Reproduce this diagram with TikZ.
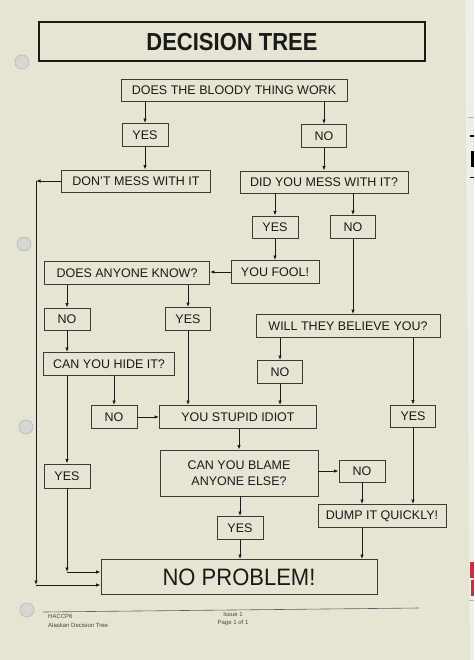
\documentclass[tikz,border=0pt]{standalone}
\usepackage{fontspec}
\setmainfont{Liberation Sans}
\usetikzlibrary{arrows.meta,calc}
\definecolor{paper}{HTML}{E6E4D3}
\definecolor{edge}{HTML}{EEEEEA}
\definecolor{ink}{HTML}{1A1A18}
\definecolor{boxline}{HTML}{3C3C37}
\definecolor{hole}{HTML}{D6D6D3}
\definecolor{markred}{HTML}{C8303C}
\tikzset{
  box/.style={draw=boxline, line width=0.9pt, rectangle, inner sep=0pt, text=ink,
    font=\fontsize{12.5}{15}\selectfont, align=center},
  arr/.style={draw=ink, line width=0.8pt, -{Latex[length=4.5pt,width=3.5pt]}},
  punch/.style={fill=hole, draw=gray!55, line width=0.6pt},
  foot/.style={font=\fontsize{6}{7}\selectfont, text=ink!80, inner sep=0pt, align=left}
}
\begin{document}
\begin{tikzpicture}[x=1pt,y=-1pt]
% page and background
\fill[edge] (0,0) rectangle (474,660);
\fill[paper] (0,0) -- (465,0) -- (470,660) -- (0,660) -- cycle;
\useasboundingbox (0,0) rectangle (474,660);
\fill[black] (471,151) rectangle (474,167);
\fill[black] (470,135) rectangle (474,137);
\fill[black] (470,177) rectangle (474,178.5);
\fill[markred] (470,562) rectangle (474,578);
\fill[markred] (471,580) rectangle (474,596);
\draw[gray!60, line width=0.6pt] (468,117) -- (474,117);
\draw[gray!60, line width=0.6pt] (469,600) -- (474,600);
% punch holes
\draw[punch] (22,62) circle (7);
\draw[punch] (24,244) circle (7);
\draw[punch] (26,427) circle (7);
\draw[punch] (27,610) circle (7);

% title
\node[draw=ink, line width=2pt, minimum width=386pt, minimum height=39pt, inner sep=0pt,
      font=\fontsize{22}{26}\selectfont\bfseries, text=ink] (title) at (232,42) {\scalebox{1}[1.12]{DECISION TREE}};

% nodes
\node[box, minimum width=226pt, minimum height=22pt] (q1) at (234,90) {DOES THE BLOODY THING WORK};
\node[box, minimum width=46pt, minimum height=23pt] (y1) at (145,135) {YES};
\node[box, minimum width=45pt, minimum height=23pt] (n1) at (324,136) {NO};
\node[box, minimum width=149pt, minimum height=22pt] (dm) at (136,181) {DON'T MESS WITH IT};
\node[box, minimum width=168pt, minimum height=22pt] (dy) at (324,182) {DID YOU MESS WITH IT?};
\node[box, minimum width=46pt, minimum height=22pt] (y2) at (275,227) {YES};
\node[box, minimum width=45pt, minimum height=23pt] (n2) at (353,227) {NO};
\node[box, minimum width=88pt, minimum height=23pt] (yf) at (275,272) {YOU FOOL!};
\node[box, minimum width=165pt, minimum height=23pt] (dak) at (127,273) {DOES ANYONE KNOW?};
\node[box, minimum width=46pt, minimum height=22pt] (n3) at (67,319) {NO};
\node[box, minimum width=45pt, minimum height=23pt] (y3) at (188,319) {YES};
\node[box, minimum width=184pt, minimum height=23pt] (wt) at (348,326) {WILL THEY BELIEVE YOU?};
\node[box, minimum width=131pt, minimum height=23pt] (ch) at (109,364) {CAN YOU HIDE IT?};
\node[box, minimum width=45pt, minimum height=23pt] (n4) at (280,372) {NO};
\node[box, minimum width=157pt, minimum height=23pt] (ysi) at (238,417) {YOU STUPID IDIOT};
\node[box, minimum width=46pt, minimum height=23pt] (n5) at (114,417) {NO};
\node[box, minimum width=45pt, minimum height=22pt] (y4) at (413,416) {YES};
\node[box, minimum width=158pt, minimum height=46pt, text depth=0pt] (cb) at (239,473) {CAN YOU BLAME\\[1.5pt]ANYONE ELSE?};
\node[box, minimum width=46pt, minimum height=22pt] (n6) at (362,471) {NO};
\node[box, minimum width=46pt, minimum height=24pt] (y5) at (67,476) {YES};
\node[box, minimum width=128pt, minimum height=23pt] (dq) at (382,516) {DUMP IT QUICKLY!};
\node[box, minimum width=46pt, minimum height=23pt] (y6) at (240,528) {YES};
\node[box, minimum width=276pt, minimum height=35pt, font=\fontsize{22}{26}\selectfont] (np) at (239,577) {\scalebox{1}[1.08]{NO PROBLEM!}};

% helper coordinates
\coordinate (c1) at (36,181);
\coordinate (c2) at (36,585);
\coordinate (c3) at (67,572);

% connectors
\draw[arr] (y1.north |- q1.south) -- (y1.north);
\draw[arr] (n1.north |- q1.south) -- (n1.north);
\draw[arr] (y1.south) -- (y1.south |- dm.north);
\draw[arr] (n1.south) -- (n1.south |- dy.north);
\draw[arr] (y2.north |- dy.south) -- (y2.north);
\draw[arr] (n2.north |- dy.south) -- (n2.north);
\draw[arr] (y2.south) -- (yf.north);
\draw[arr] (yf.west) -- (yf.west -| dak.east);
\draw[arr] (n3.north |- dak.south) -- (n3.north);
\draw[arr] (y3.north |- dak.south) -- (y3.north);
\draw[arr] (n2.south) -- (n2.south |- wt.north);
\draw[arr] (n4.north |- wt.south) -- (n4.north);
\draw[arr] (y4.north |- wt.south) -- (y4.north);
\draw[arr] (n3.south) -- (n3.south |- ch.north);
\draw[arr] (n5.north |- ch.south) -- (n5.north);
\draw[arr] (y5.north |- ch.south) -- (y5.north);
\draw[arr] (y3.south) -- (y3.south |- ysi.north);
\draw[arr] (n4.south) -- (n4.south |- ysi.north);
\draw[arr] (n5.east) -- (n5.east -| ysi.west);
\draw[arr] (cb.north |- ysi.south) -- (cb.north);
\draw[arr] (n6.west -| cb.east) -- (n6.west);
\draw[arr] (y6.north |- cb.south) -- (y6.north);
\draw[arr] (n6.south) -- (n6.south |- dq.north);
\draw[arr] (y4.south) -- (y4.south |- dq.north);
\draw[arr] (y6.south) -- (y6.south |- np.north);
\draw[arr] (dq.south -| n6.south) -- (np.north -| n6.south);
\draw[arr] (y5.south) -- (c3);
\draw[arr] (c3) -- (c3 -| np.west);
\draw[arr] (dm.west) -- (c1);
\draw[arr] (c1) -- (c2);
\draw[arr] (c2) -- (c2 -| np.west);

% footer
\coordinate (fl) at (43,612);
\coordinate (fr) at (419,608);
\draw[ink!70, line width=0.6pt] (fl) -- (fr);
\node[foot, anchor=west] (f1) at (48,616) {HACCP6};
\node[foot, anchor=west] (f2) at (48,625) {Alaskan Decision Tree};
\node[foot] (f3) at (233,614) {Issue 1};
\node[foot] (f4) at (233,623) {Page 1 of 1};
\end{tikzpicture}
\end{document}
